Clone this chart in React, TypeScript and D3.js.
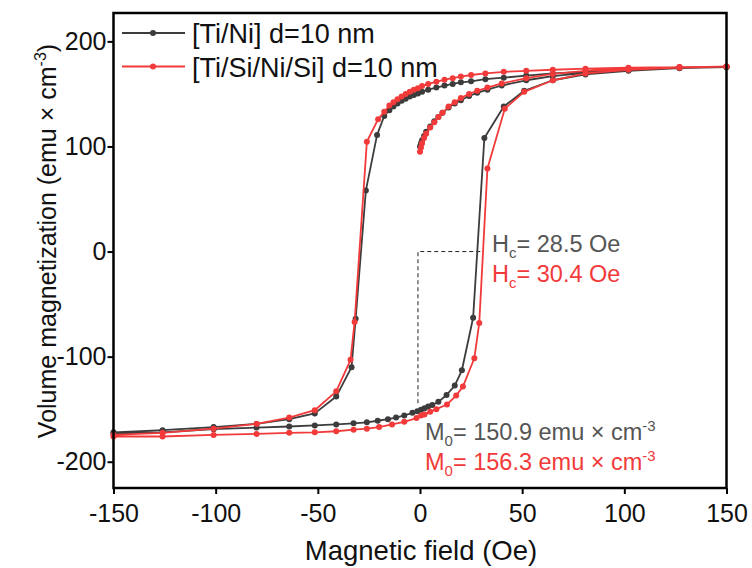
import React, { useEffect, useRef } from 'react';
import * as d3 from 'd3';

// tick values
const xTicks = [-150, -100, -50, 0, 50, 100, 150];
const yTicks = [-200, -100, 0, 100, 200];

// [Ti/Ni] d=10 nm  (field in Oe, magnetization in emu/cm3)
const tiNiVirginH = [0, 0.5, 1, 2, 3, 5, 7, 9, 11, 14, 17, 20, 24, 28, 33, 40, 52, 65, 81, 102, 127, 150];
const tiNiVirginM = [100, 103, 106, 110, 114, 119, 124, 128, 132, 137, 141, 144, 148, 151, 154, 158, 163, 167, 170, 173, 175, 175.5];
const tiNiDownH = [150, 127, 102, 81, 65, 52, 41, 32, 25, 20, 16, 12, 8, 4, 1, -1, -3, -5, -7, -9, -11, -13, -15, -17.5, -21, -26.5, -31.5, -33.5, -41, -51.5, -64, -80, -101, -126, -150];
const tiNiDownM = [175.5, 175, 173, 171, 169.5, 167.5, 165.5, 164, 162, 161, 159.5, 158, 156, 154, 152, 150.5, 149, 147.5, 145.5, 143.5, 141, 138, 134.5, 129, 111, 58, -64, -110, -138, -154, -159.5, -164, -167, -170, -172];
const tiNiUpH = [-150, -126, -101, -80, -64, -51.5, -41, -32.5, -26, -20.7, -15.7, -11.7, -7.7, -3.7, -1.3, 0.5, 2.2, 4, 6, 9, 13, 17, 20.5, 26, 31.5, 41, 51, 65, 81, 102, 127, 150];
const tiNiUpM = [-173, -172, -169, -167.5, -166.5, -165.5, -164.5, -163.5, -162.5, -161, -159.5, -158, -156, -153.5, -152, -150.5, -149, -147.5, -146, -143, -136.5, -127.5, -113, -63, 108, 138, 153, 163, 168.5, 172, 174.5, 175.5];

// [Ti/Si/Ni/Si] d=10 nm
const tiSiVirginH = [0, 0.5, 1, 2, 3, 5, 7, 9, 11, 14, 17, 20, 24, 28, 33, 40, 52, 65, 81, 102, 127, 150];
const tiSiVirginM = [95, 99, 103, 108, 112, 118, 123, 128, 132, 138, 142, 146, 150, 153, 156, 160, 165, 169, 172, 174, 175.5, 176];
const tiSiDownH = [150, 127, 102, 81, 65, 52, 41, 32, 25, 20, 16, 12, 8, 4, 1, -1, -3, -5, -7, -9, -11, -13, -15, -17.5, -20.5, -26, -32, -34, -41, -51.5, -64, -80, -101, -126, -150];
const tiSiDownM = [176, 175.5, 175, 174, 173, 172, 171, 169.5, 168, 166.5, 165, 163.5, 161.5, 159.5, 157.5, 155.5, 154, 152, 150, 147.5, 145, 142, 139, 133, 126, 104.5, -67, -103, -133, -151, -158, -164, -168.5, -172.5, -174.5];
const tiSiUpH = [-150, -126, -101, -80, -64, -51.5, -41, -32.5, -26, -20, -13.7, -7.7, -1.7, 0.5, 2.2, 5, 8, 13.2, 17.7, 21, 26.6, 29, 33, 41.5, 51, 65, 81, 102, 127, 150];
const tiSiUpM = [-176, -176, -174.5, -173.5, -172.5, -172, -171, -169.5, -168.5, -167, -164.5, -162, -158.5, -156, -155, -152.5, -150, -145.5, -137, -128.5, -101.5, -68, 79, 136, 152, 163, 169.5, 173, 175, 176];

// dashed guide: coercive field / remanence
const hcGuideH = [-1, 29.5];
const m0GuideM = [0, -147];

const GRAY = '#3c3c3c';
const RED = '#f23a3a';
const FONT = 'Arial, "Liberation Sans", sans-serif';

const zip = (h: number[], m: number[]) => h.map((v, i) => [v, m[i]] as [number, number]);

const series = [
  { name: '[Ti/Ni] d=10 nm', color: GRAY, pts: [...zip(tiNiVirginH, tiNiVirginM), ...zip(tiNiDownH, tiNiDownM), ...zip(tiNiUpH, tiNiUpM)] },
  { name: '[Ti/Si/Ni/Si] d=10 nm', color: RED, pts: [...zip(tiSiVirginH, tiSiVirginM), ...zip(tiSiDownH, tiSiDownM), ...zip(tiSiUpH, tiSiUpM)] },
];

export default function App() {
  const svgRef = useRef<SVGSVGElement>(null);

  useEffect(() => {
    const svg = d3.select(svgRef.current);
    svg.selectAll('*').remove();

    const x = d3.scaleLinear().domain([-150, 150]).range([113.5, 726.5]);
    const y = d3.scaleLinear().domain([-225, 227]).range([488, 13]);

    svg.append('rect').attr('width', 752).attr('height', 568).attr('fill', '#fff');

    // axes
    const xAxis = svg.append('g')
      .attr('transform', 'translate(0,488)')
      .call(d3.axisBottom(x).tickValues(xTicks).tickSize(6).tickPadding(10).tickFormat(d => String(d)));
    const yAxis = svg.append('g')
      .attr('transform', 'translate(113.5,0)')
      .call(d3.axisLeft(y).tickValues(yTicks).tickSize(6).tickPadding(1).tickFormat(d => String(d)));
    [xAxis, yAxis].forEach(g => {
      g.select('.domain').remove();
      g.selectAll('.tick line').attr('stroke', '#000').attr('stroke-width', 2);
      g.selectAll('.tick text').attr('fill', '#111').style('font-size', '25px').style('font-family', FONT);
    });

    // dashed guides
    svg.append('path')
      .attr('d', `M${x(hcGuideH[1])},${y(0)}H${x(hcGuideH[0])}V${y(m0GuideM[1])}`)
      .attr('fill', 'none').attr('stroke', '#222').attr('stroke-width', 1).attr('stroke-dasharray', '4,3');

    // loops
    const line = d3.line<[number, number]>().x(d => x(d[0])).y(d => y(d[1]));
    series.forEach(s => {
      svg.append('path').attr('d', line(s.pts)).attr('fill', 'none')
        .attr('stroke', s.color).attr('stroke-width', 1.8).attr('stroke-linejoin', 'round');
      svg.append('g').selectAll('circle').data(s.pts).join('circle')
        .attr('cx', d => x(d[0])).attr('cy', d => y(d[1])).attr('r', 3).attr('fill', s.color);
    });

    // frame
    svg.append('rect').attr('x', 113.5).attr('y', 13).attr('width', 613).attr('height', 475)
      .attr('fill', 'none').attr('stroke', '#000').attr('stroke-width', 2.5);

    // legend
    series.forEach((s, i) => {
      const ly = 33 + i * 33.5;
      svg.append('line').attr('x1', 122).attr('x2', 185).attr('y1', ly).attr('y2', ly)
        .attr('stroke', s.color).attr('stroke-width', 1.8);
      svg.append('circle').attr('cx', 153).attr('cy', ly).attr('r', 3).attr('fill', s.color);
      svg.append('text').attr('x', 192).attr('y', ly + 10).text(s.name)
        .attr('fill', '#111').style('font-size', '27px').style('font-family', FONT);
    });

    // annotations
    const note = (tx: number, ty: number, color: string, main: string, sub: string, rest: string, sup?: string) => {
      const t = svg.append('text').attr('x', tx).attr('y', ty).attr('fill', color)
        .style('font-size', '23.5px').style('font-family', FONT);
      t.append('tspan').text(main);
      t.append('tspan').attr('dy', 6).style('font-size', '15px').text(sub);
      t.append('tspan').attr('dy', -6).text(rest);
      if (sup) t.append('tspan').attr('dy', -9).style('font-size', '15px').text(sup);
    };
    note(492, 252, '#555', 'H', 'c', '= 28.5 Oe');
    note(492, 282, RED, 'H', 'c', '= 30.4 Oe');
    note(425, 440, '#555', 'M', '0', '= 150.9 emu × cm', '-3');
    note(425, 470, RED, 'M', '0', '= 156.3 emu × cm', '-3');

    // axis titles
    svg.append('text').attr('x', 421).attr('y', 560).attr('text-anchor', 'middle')
      .attr('fill', '#111').style('font-size', '27.5px').style('font-family', FONT)
      .text('Magnetic field (Oe)');
    const yt = svg.append('text').attr('transform', 'translate(56,241) rotate(-90)')
      .attr('text-anchor', 'middle').attr('fill', '#111')
      .style('font-size', '25px').style('font-family', FONT);
    yt.append('tspan').text('Volume magnetization (emu × cm');
    yt.append('tspan').attr('dy', -10).style('font-size', '16px').text('-3');
    yt.append('tspan').attr('dy', 10).text(')');
  }, []);

  return <svg ref={svgRef} width={752} height={568} style={{ position: 'fixed', left: 0, top: 0 }} />;
}
